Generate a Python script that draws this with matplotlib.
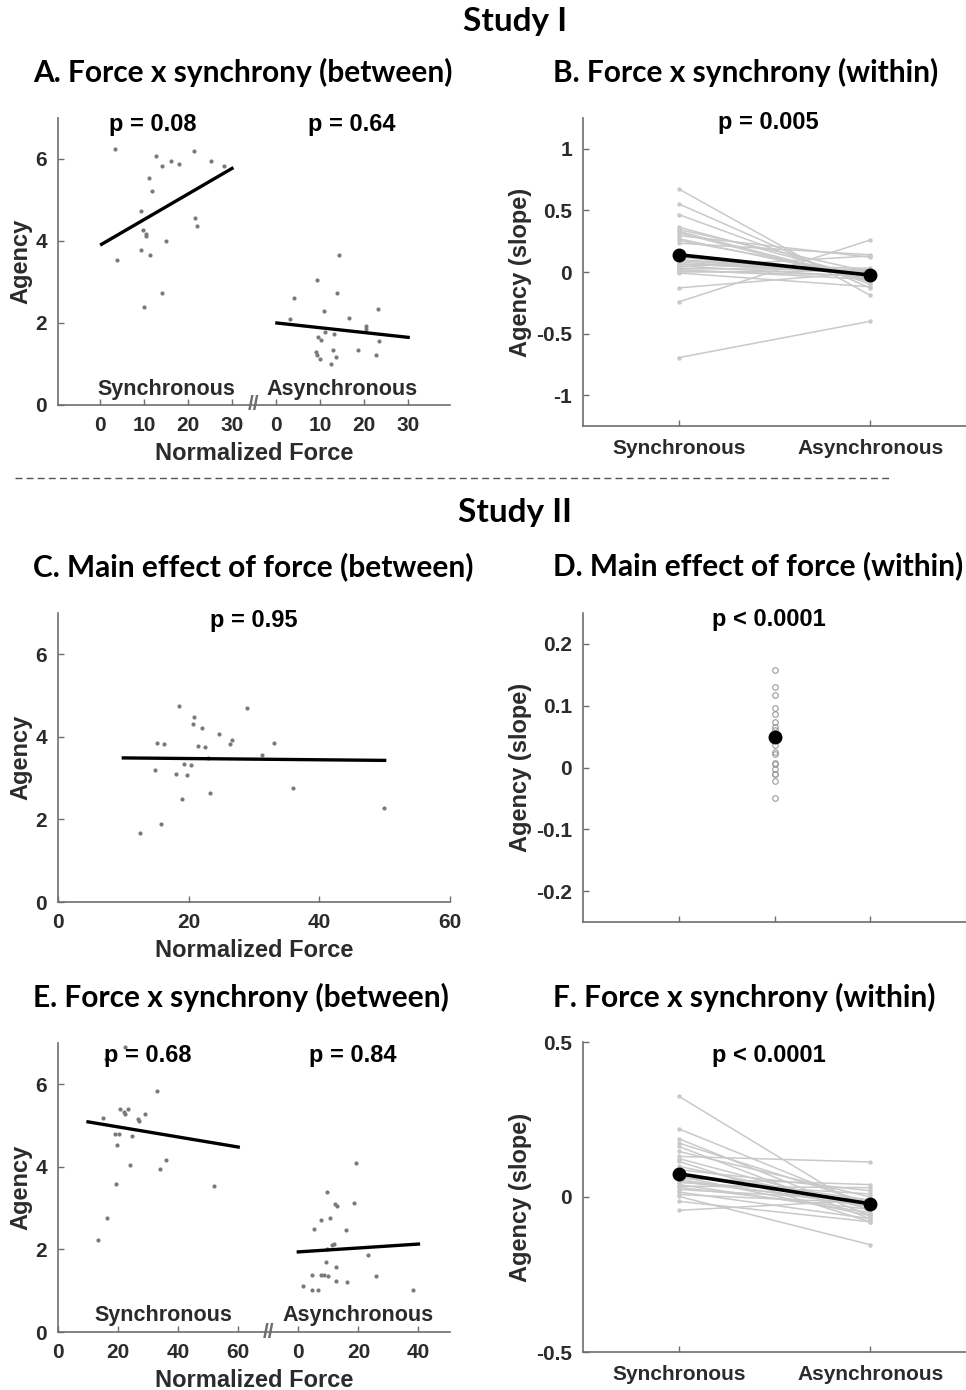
import numpy as np
import matplotlib
matplotlib.use("Agg")
import matplotlib.pyplot as plt

# ---- data ----
# Study I, panel A (between): normalized force vs agency
a_sync_force = [3.4, 12.7, 14.0, 16.1, 18.0, 21.3, 25.2, 28.2, 11.2, 11.8, 9.3, 21.7, 22.1,
                9.9, 10.4, 10.4, 15.0, 9.3, 11.5, 4.0, 14.0, 10.0]
a_sync_agency = [6.24, 6.07, 5.84, 5.96, 5.88, 6.19, 5.96, 5.82, 5.53, 5.21, 4.74, 4.56, 4.36,
                 4.28, 4.18, 4.11, 3.99, 3.77, 3.67, 3.54, 2.73, 2.39]
a_async_force = [3.1, 4.0, 9.4, 14.3, 13.9, 11.0, 16.6, 23.1, 20.4, 20.4, 11.1, 13.1, 9.6, 10.2,
                 23.3, 12.9, 18.5, 9.0, 9.2, 22.6, 13.7, 9.9, 12.4]
a_async_agency = [2.09, 2.62, 3.06, 3.66, 2.72, 2.30, 2.11, 2.33, 1.93, 1.85, 1.78, 1.72, 1.65, 1.58,
                  1.56, 1.34, 1.34, 1.30, 1.22, 1.21, 1.18, 1.11, 1.01]
a_sync_fit = ([0.4, 30], [3.92, 5.77])
a_async_fit = ([0.2, 30], [2.0, 1.65])
a_pvals = ["p = 0.08", "p = 0.64"]

# panel B (within): individual slopes
b_sync = [0.674, 0.553, 0.466, 0.364, 0.345, 0.330, 0.318, 0.296, 0.270, 0.256, 0.234, 0.12, 0.10,
          0.094, 0.08, 0.067, 0.06, 0.049, 0.04, 0.027, 0.02, 0.008, 0.0, -0.008, -0.129, -0.243, -0.695]
b_async = [-0.19, -0.13, -0.10, -0.05, 0.0, -0.07, -0.08, 0.12, -0.06, -0.03, 0.14, -0.02, 0.0,
           -0.02, -0.02, -0.01, 0.03, -0.04, 0.13, 0.02, -0.06, -0.03, 0.01, -0.12, 0.0, 0.26, -0.40]
b_mean = [0.14, -0.025]
b_p = "p = 0.005"

# Study II, panel C (between, main effect)
c_force = [18.5, 29.0, 20.8, 20.7, 22.1, 24.7, 26.7, 26.3, 33.0, 15.2, 16.2, 21.4, 22.5, 23.0,
           31.3, 19.3, 20.3, 14.8, 18.1, 19.8, 23.2, 35.9, 19.0, 49.9, 15.7, 12.6]
c_agency = [4.74, 4.70, 4.48, 4.32, 4.22, 4.06, 3.92, 3.82, 3.85, 3.85, 3.82, 3.77, 3.76, 3.50,
            3.55, 3.35, 3.33, 3.19, 3.09, 3.07, 2.63, 2.75, 2.49, 2.27, 1.88, 1.66]
c_fit = ([10, 50], [3.49, 3.43])
c_p = "p = 0.95"

# panel D (within, main effect)
d_slopes = [0.157, 0.130, 0.118, 0.097, 0.086, 0.074, 0.065, 0.060, 0.055, 0.050, 0.044, 0.036,
            0.025, 0.022, 0.008, 0.005, -0.003, -0.010, -0.011, -0.022, -0.049]
d_mean = 0.050
d_p = "p < 0.0001"

# panel E (between, force x synchrony)
e_sync_force = [16.1, 22.2, 33.0, 15.0, 20.8, 23.3, 22.2, 21.9, 28.9, 26.7, 26.8, 18.9, 20.2, 24.8,
                19.7, 24.1, 35.9, 34.0, 19.3, 52.0, 16.3, 13.3]
e_sync_agency = [6.62, 6.91, 5.84, 5.19, 5.41, 5.40, 5.27, 5.33, 5.29, 5.17, 5.11, 4.79, 4.79, 4.74,
                 4.54, 4.04, 4.16, 3.94, 3.59, 3.54, 2.76, 2.24]
e_async_force = [19.1, 9.4, 12.2, 13.0, 18.6, 7.4, 10.4, 5.2, 16.0, 11.1, 11.9, 9.7, 23.2, 9.1, 12.7,
                 4.7, 7.4, 8.6, 9.9, 25.9, 12.4, 16.3, 1.7, 4.7, 6.6, 38.1]
e_async_agency = [4.10, 3.38, 3.09, 3.05, 3.13, 2.71, 2.76, 2.50, 2.48, 2.10, 2.14, 2.02, 1.86, 1.70,
                  1.58, 1.39, 1.39, 1.37, 1.35, 1.35, 1.24, 1.20, 1.11, 1.01, 1.01, 1.01]
e_sync_fit = ([10, 60], [5.09, 4.48])
e_async_fit = ([0, 40], [1.94, 2.13])
e_pvals = ["p = 0.68", "p = 0.84"]

# panel F (within, force x synchrony)
f_sync = [0.325, 0.220, 0.188, 0.174, 0.163, 0.147, 0.131, 0.124, 0.115, 0.099, 0.088, 0.077, 0.067,
          0.060, 0.056, 0.050, 0.047, 0.040, 0.035, 0.031, 0.024, 0.016, 0.008, 0.002, -0.014, -0.043]
f_async = [-0.05, -0.03, -0.06, -0.02, -0.07, 0.0, 0.113, -0.04, -0.08, -0.03, 0.02, -0.01, -0.06,
           0.04, -0.03, -0.02, 0.01, -0.05, 0.03, -0.04, -0.01, -0.07, -0.02, -0.154, -0.08, -0.01]
f_mean = [0.075, -0.022]
f_p = "p < 0.0001"

conds = ["Synchronous", "Asynchronous"]

# ---- style ----
W, H = 966, 1390
TXT = "#2b2b2b"
AX = "#6e6e6e"
DOT = "#7a7a7a"
LIGHT = "#c9c9c9"
SANS = ["Liberation Sans", "DejaVu Sans"]
plt.rcParams["font.family"] = SANS
plt.rcParams["font.weight"] = "bold"

fig = plt.figure(figsize=(W / 100, H / 100), dpi=100)


def px_axes(l, t, r, b):
    return fig.add_axes([l / W, 1 - b / H, (r - l) / W, (b - t) / H])


def style(ax):
    for s in ["top", "right"]:
        ax.spines[s].set_visible(False)
    for s in ["left", "bottom"]:
        ax.spines[s].set_color(AX)
        ax.spines[s].set_linewidth(1.2)
    ax.tick_params(direction="in", length=4, width=1, colors=AX, labelcolor=TXT,
                   labelsize=15, pad=8)
    for lab in ax.get_xticklabels() + ax.get_yticklabels():
        lab.set_fontweight("bold")
        lab.set_family(SANS)


def title_px(x, y, s, size=21.5, ha="left"):
    fig.text(x / W, 1 - y / H, s, ha=ha, va="center", fontsize=size,
             fontweight="bold", family=["Lato", "DejaVu Sans"], color="black")


def ptext(ax, x, y, s):
    ax.text(x, y, s, ha="center", va="center", fontsize=17, fontweight="bold", color="black")


def scatter_between(ax, force, agency):
    ax.plot(force, agency, "o", ms=3, color=DOT, mec="none")


def within(ax, s, a, mean):
    for y1, y2 in zip(s, a):
        ax.plot([1, 2], [y1, y2], "-", color=LIGHT, lw=1.1, marker="o", ms=2.2,
                mfc=LIGHT, mec=LIGHT, zorder=1)
    ax.plot([1, 2], mean, "-", color="black", lw=2.6, marker="o", ms=9, zorder=3)
    ax.set_xlim(0.5, 2.5)
    ax.set_xticks([1, 2])
    ax.set_xticklabels(conds)


def between_labels(ax):
    ax.set_xlabel("Normalized Force", fontsize=17, fontweight="bold", color=TXT, labelpad=5)
    ax.set_ylabel("Agency", fontsize=17, fontweight="bold", color=TXT, labelpad=2)


# ---- A ----
axA = px_axes(58, 118, 450, 405)
offA = 40
scatter_between(axA, a_sync_force, a_sync_agency)
scatter_between(axA, np.array(a_async_force) + offA, a_async_agency)
axA.plot(a_sync_fit[0], a_sync_fit[1], color="black", lw=2.4)
axA.plot(np.array(a_async_fit[0]) + offA, a_async_fit[1], color="black", lw=2.4)
axA.set_xlim(-9.5, 79.5)
axA.set_ylim(0, 7)
axA.set_xticks([0, 10, 20, 30, 40, 50, 60, 70])
axA.set_xticklabels(["0", "10", "20", "30", "0", "10", "20", "30"])
axA.set_yticks([0, 2, 4, 6])
style(axA)
ptext(axA, 12, 6.84, a_pvals[0])
ptext(axA, offA + 17.3, 6.84, a_pvals[1])
axA.text(15, 0.39, conds[0], ha="center", va="center", fontsize=15.5, fontweight="bold", color=TXT)
axA.text(offA + 15, 0.39, conds[1], ha="center", va="center", fontsize=15.5, fontweight="bold", color=TXT)
axA.text(35, 0, "//", ha="center", va="center", fontsize=15, color=AX, clip_on=False)
between_labels(axA)

# ---- B ----
axB = px_axes(583, 118, 966, 426)
within(axB, b_sync, b_async, b_mean)
axB.set_ylim(-1.25, 1.25)
axB.set_yticks([-1, -0.5, 0, 0.5, 1])
axB.set_yticklabels(["-1", "-0.5", "0", "0.5", "1"])
style(axB)
axB.tick_params(axis="x", pad=9)
ptext(axB, 1.47, 1.21, b_p)
axB.set_ylabel("Agency (slope)", fontsize=17, fontweight="bold", color=TXT, labelpad=3)

# ---- C ----
axC = px_axes(58, 613, 450, 902)
scatter_between(axC, c_force, c_agency)
axC.plot(c_fit[0], c_fit[1], color="black", lw=2.4)
axC.set_xlim(0, 60)
axC.set_ylim(0, 7)
axC.set_xticks([0, 20, 40, 60])
axC.set_yticks([0, 2, 4, 6])
style(axC)
ptext(axC, 30, 6.83, c_p)
between_labels(axC)

# ---- D ----
axD = px_axes(583, 613, 966, 922)
axD.plot([1.5] * len(d_slopes), d_slopes, "o", ms=4, mfc="none", mec="#9a9a9a", mew=0.8)
axD.plot([1.5], [d_mean], "o", ms=9, color="black")
axD.set_xlim(0.5, 2.5)
axD.set_ylim(-0.25, 0.25)
axD.set_xticks([1, 1.5, 2])
axD.set_xticklabels([])
axD.set_yticks([-0.2, -0.1, 0, 0.1, 0.2])
axD.set_yticklabels(["-0.2", "-0.1", "0", "0.1", "0.2"])
style(axD)
ptext(axD, 1.47, 0.239, d_p)
axD.set_ylabel("Agency (slope)", fontsize=17, fontweight="bold", color=TXT, labelpad=3)

# ---- E ----
axE = px_axes(58, 1043, 450, 1332)
offE = 80
scatter_between(axE, e_sync_force, e_sync_agency)
scatter_between(axE, np.array(e_async_force) + offE, e_async_agency)
axE.plot(e_sync_fit[0], e_sync_fit[1], color="black", lw=2.4)
axE.plot(np.array(e_async_fit[0]) + offE, e_async_fit[1], color="black", lw=2.4)
axE.set_xlim(0, 130.5)
axE.set_ylim(0, 7)
axE.set_xticks([0, 20, 40, 60, 80, 100, 120])
axE.set_xticklabels(["0", "20", "40", "60", "0", "20", "40"])
axE.set_yticks([0, 2, 4, 6])
style(axE)
ptext(axE, 30, 6.7, e_pvals[0])
ptext(axE, offE + 18, 6.7, e_pvals[1])
axE.text(35, 0.41, conds[0], ha="center", va="center", fontsize=15.5, fontweight="bold", color=TXT)
axE.text(offE + 20, 0.41, conds[1], ha="center", va="center", fontsize=15.5, fontweight="bold", color=TXT)
axE.text(70, 0, "//", ha="center", va="center", fontsize=15, color=AX, clip_on=False)
between_labels(axE)

# ---- F ----
axF = px_axes(583, 1042, 966, 1352)
within(axF, f_sync, f_async, f_mean)
axF.set_ylim(-0.5, 0.5)
axF.set_yticks([-0.5, 0, 0.5])
axF.set_yticklabels(["-0.5", "0", "0.5"])
style(axF)
axF.tick_params(axis="x", pad=9)
ptext(axF, 1.47, 0.458, f_p)
axF.set_ylabel("Agency (slope)", fontsize=17, fontweight="bold", color=TXT, labelpad=3)

# ---- titles / headers ----
title_px(515, 22, "Study I", size=24, ha="center")
title_px(515, 512, "Study II", size=24, ha="center")
title_px(33, 72, "A. Force x synchrony (between)")
title_px(553, 72, "B. Force x synchrony (within)")
title_px(33, 567, "C. Main effect of force (between)")
title_px(553, 566, "D. Main effect of force (within)")
title_px(33, 997, "E. Force x synchrony (between)")
title_px(553, 997, "F. Force x synchrony (within)")

fig.add_artist(plt.Line2D([15 / W, 890 / W], [1 - 478 / H, 1 - 478 / H], color="#555555",
                          lw=1, ls=(0, (5, 3))))

fig.savefig("out.png", dpi=100)
